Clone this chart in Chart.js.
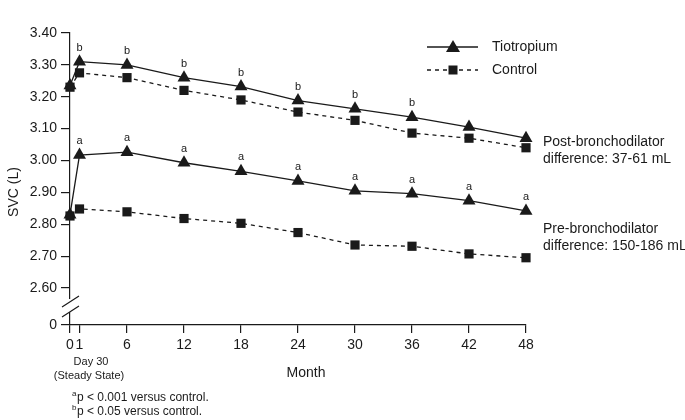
<!DOCTYPE html>
<html>
<head>
<meta charset="utf-8">
<script src="https://cdn.jsdelivr.net/npm/chart.js"></script>
<style>
  html, body { margin: 0; padding: 0; background: #fff; }
  #wrap { width: 685px; height: 420px; position: relative; }
</style>
</head>
<body>
<div id="wrap"><canvas id="myChart" width="685" height="420"></canvas></div>
<script>
var months = [0, 1, 6, 12, 18, 24, 30, 36, 42, 48];
var tioPost = [3.235, 3.31, 3.30, 3.26, 3.232, 3.188, 3.162, 3.136, 3.105, 3.07];
var ctrlPost = [3.23, 3.275, 3.26, 3.22, 3.19, 3.152, 3.126, 3.086, 3.07, 3.04];
var tioPre = [2.83, 3.017, 3.026, 2.993, 2.966, 2.936, 2.905, 2.896, 2.874, 2.842];
var ctrlPre = [2.826, 2.848, 2.839, 2.818, 2.803, 2.774, 2.735, 2.731, 2.707, 2.695];
var postSig = ["", "b", "b", "b", "b", "b", "b", "b", "", ""];
var preSig = ["", "a", "a", "a", "a", "a", "a", "a", "a", "a"];
var xTicks = [0, 1, 6, 12, 18, 24, 30, 36, 42, 48];
var yTicks = [2.6, 2.7, 2.8, 2.9, 3.0, 3.1, 3.2, 3.3, 3.4];
var yMin = 2.484;   // shown as "0" below the axis break

var font = "'Liberation Sans', Arial, Helvetica, sans-serif";
var ink = "#1a1a1a";

function pts(vals) {
    return months.map(function (m, i) { return { x: m, y: vals[i] }; });
}

function lineSet(label, vals, style, dashed, sig) {
    return {
        label: label,
        data: pts(vals),
        borderColor: ink,
        backgroundColor: ink,
        borderWidth: 1.3,
        borderDash: dashed ? [4, 4] : [],
        pointStyle: style,
        pointRadius: style === "triangle" ? 7.5 : 6.5,
        pointBorderWidth: 0,
        tension: 0,
        clip: false,
        sig: sig
    };
}

var extras = {
    id: "extras",
    afterDatasetsDraw: function (chart) {
        var c = chart.ctx;
        c.save();
        c.fillStyle = ink;
        c.textAlign = "center";
        c.textBaseline = "alphabetic";
        c.font = "11px " + font;
        chart.data.datasets.forEach(function (ds, di) {
            if (!ds.sig) return;
            var meta = chart.getDatasetMeta(di);
            meta.data.forEach(function (p, i) {
                if (ds.sig[i]) c.fillText(ds.sig[i], p.x, p.y - 11);
            });
        });
        c.restore();
    },
    afterDraw: function (chart) {
        var c = chart.ctx;
        var y = chart.scales.y;
        var ax = chart.chartArea.left;
        var y26 = y.getPixelForValue(2.6);
        c.save();
        // axis break
        c.fillStyle = "#fff";
        c.fillRect(ax - 2, y26 + 11, 4, 13);
        c.strokeStyle = ink;
        c.lineWidth = 1.2;
        c.beginPath();
        c.moveTo(ax - 8, y26 + 19); c.lineTo(ax + 9, y26 + 8);
        c.moveTo(ax - 8, y26 + 29); c.lineTo(ax + 9, y26 + 18);
        c.stroke();

        // legend
        var lx = 427, lw = 51;
        c.lineWidth = 1.3;
        c.beginPath();
        c.moveTo(lx, 47); c.lineTo(lx + lw, 47);
        c.stroke();
        c.setLineDash([4, 4]);
        c.beginPath();
        c.moveTo(lx, 70); c.lineTo(lx + lw, 70);
        c.stroke();
        c.setLineDash([]);
        c.fillStyle = ink;
        c.beginPath();
        c.moveTo(453, 40); c.lineTo(460, 52); c.lineTo(446, 52); c.closePath();
        c.fill();
        c.fillRect(448.5, 65.5, 9, 9);
        c.font = "14px " + font;
        c.textAlign = "left";
        c.textBaseline = "middle";
        c.fillText("Tiotropium", 492, 47);
        c.fillText("Control", 492, 70);

        // side notes
        c.fillText("Post-bronchodilator", 543, 142);
        c.fillText("difference: 37-61 mL", 543, 159);
        c.fillText("Pre-bronchodilator", 543, 229);
        c.fillText("difference: 150-186 mL", 543, 246);

        // axis titles
        c.textAlign = "center";
        c.fillText("Month", 306, 373);
        c.font = "11px " + font;
        c.fillText("Day 30", 91, 362);
        c.fillText("(Steady State)", 89, 376);
        c.save();
        c.translate(14, 192);
        c.rotate(-Math.PI / 2);
        c.font = "14px " + font;
        c.fillText("SVC (L)", 0, 0);
        c.restore();

        // footnotes
        c.textAlign = "left";
        c.font = "8px " + font;
        c.fillText("a", 72, 394);
        c.fillText("b", 72, 408);
        c.font = "12px " + font;
        c.fillText("p < 0.001 versus control.", 77, 398);
        c.fillText("p < 0.05 versus control.", 77, 412);
        c.restore();
    }
};

new Chart("myChart", {
    type: "line",
    data: {
        datasets: [
            lineSet("Tiotropium", tioPost, "triangle", false, postSig),
            lineSet("Tiotropium pre", tioPre, "triangle", false, preSig),
            lineSet("Control", ctrlPost, "rect", true, null),
            lineSet("Control pre", ctrlPre, "rect", true, null)
        ]
    },
    options: {
        responsive: false,
        animation: false,
        layout: { padding: { left: 0, right: 159, top: 33, bottom: 0 } },
        plugins: {
            legend: { display: false },
            tooltip: { enabled: false }
        },
        scales: {
            x: {
                type: "linear",
                min: 0,
                max: 48,
                afterBuildTicks: function (s) {
                    s.ticks = xTicks.map(function (v) { return { value: v }; });
                },
                afterFit: function (s) { s.height = 95; },
                grid: { display: true, drawOnChartArea: false, drawTicks: true, tickLength: 8, color: ink, lineWidth: 1.2 },
                border: { display: true, color: ink, width: 1.2 },
                ticks: {
                    autoSkip: false,
                    maxRotation: 0,
                    color: ink,
                    padding: 4,
                    font: { family: font, size: 14 },
                    callback: function (v) { return String(v); }
                }
            },
            y: {
                type: "linear",
                min: yMin,
                max: 3.4,
                afterBuildTicks: function (s) {
                    s.ticks = [{ value: yMin }].concat(yTicks.map(function (v) { return { value: v }; }));
                },
                afterFit: function (s) { s.width = 70; },
                grid: { display: true, drawOnChartArea: false, drawTicks: true, tickLength: 9, color: ink, lineWidth: 1.2 },
                border: { display: true, color: ink, width: 1.2 },
                ticks: {
                    autoSkip: false,
                    color: ink,
                    padding: 4,
                    font: { family: font, size: 14 },
                    callback: function (v) { return v === yMin ? "0" : Number(v).toFixed(2); }
                }
            }
        }
    },
    plugins: [extras]
});
</script>
</body>
</html>
